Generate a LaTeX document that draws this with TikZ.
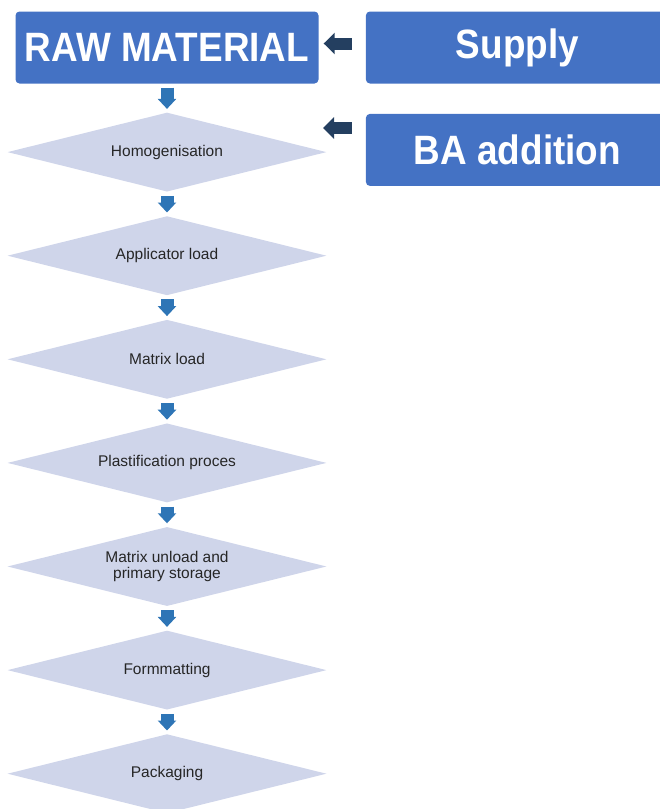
\documentclass[tikz,border=0pt]{standalone}
\usepackage{fontspec}
\setmainfont{Liberation Sans}
\newfontfamily\boxfont[FakeStretch=0.9]{Liberation Sans}
\usepackage{xcolor}
\definecolor{boxblue}{RGB}{68,114,196}
\definecolor{steplilac}{RGB}{207,213,234}
\definecolor{downblue}{RGB}{46,117,182}
\definecolor{darknavy}{RGB}{36,63,96}
\usetikzlibrary{shapes.geometric, arrows.meta, positioning}
\tikzstyle{bluebox}=[rectangle, rounded corners=4pt, minimum width=303pt, minimum height=72pt, inner sep=0pt, text centered, fill=boxblue, text=white, font=\boxfont\fontsize{41}{44}\selectfont\bfseries]
\tikzstyle{stepshape}=[diamond, aspect=4, minimum width=319pt, minimum height=79pt, inner sep=0pt, fill=steplilac, text=black!85, align=center, font=\fontsize{15.5}{16}\selectfont]
\tikzstyle{downarrow}=[line width=13pt, draw=downblue, -{Triangle[length=10pt, width=18pt]}, shorten <=4pt, shorten >=3.5pt]
\tikzstyle{sidearrow}=[line width=12pt, draw=darknavy, -{Triangle[length=11pt, width=21pt]}]

\begin{document}
\begin{tikzpicture}[x=1pt, y=-1pt, node distance=103.6pt]
		\clip (0,0) rectangle (660,809);
		\node(raw)[bluebox] at (167,47.5) {RAW MATERIAL};
		\node(sup)[bluebox, right=47pt of raw]{Supply};
		\node(ba)[bluebox, below=30pt of sup]{BA addition};
		\node(n1)[stepshape, below of=raw, yshift=-1pt]{Homogenisation};
		\node(n2)[stepshape, below of=n1]{Applicator load};
		\node(n3)[stepshape, below of=n2]{Matrix load};
		\node(n4)[stepshape, below of=n3]{Plastification proces};
		\node(n5)[stepshape, below of=n4]{Matrix unload and\\primary storage};
		\node(n6)[stepshape, below of=n5]{Formmatting};
		\node(n7)[stepshape, below of=n6]{Packaging};
		\coordinate(ba-in) at (323,128);
		
		\draw[downarrow](raw)--(n1);
		\draw[downarrow](n1)--(n2);
		\draw[downarrow](n2)--(n3);
		\draw[downarrow](n3)--(n4);
		\draw[downarrow](n4)--(n5);
		\draw[downarrow](n5)--(n6);
		\draw[downarrow](n6)--(n7);
		\draw[sidearrow, shorten <=14pt, shorten >=5pt]([yshift=4pt]sup.west)--([yshift=4pt]raw.east);
		\draw[sidearrow, shorten <=14pt](ba-in -| ba.west)--(ba-in);
	\end{tikzpicture}
\end{document}
